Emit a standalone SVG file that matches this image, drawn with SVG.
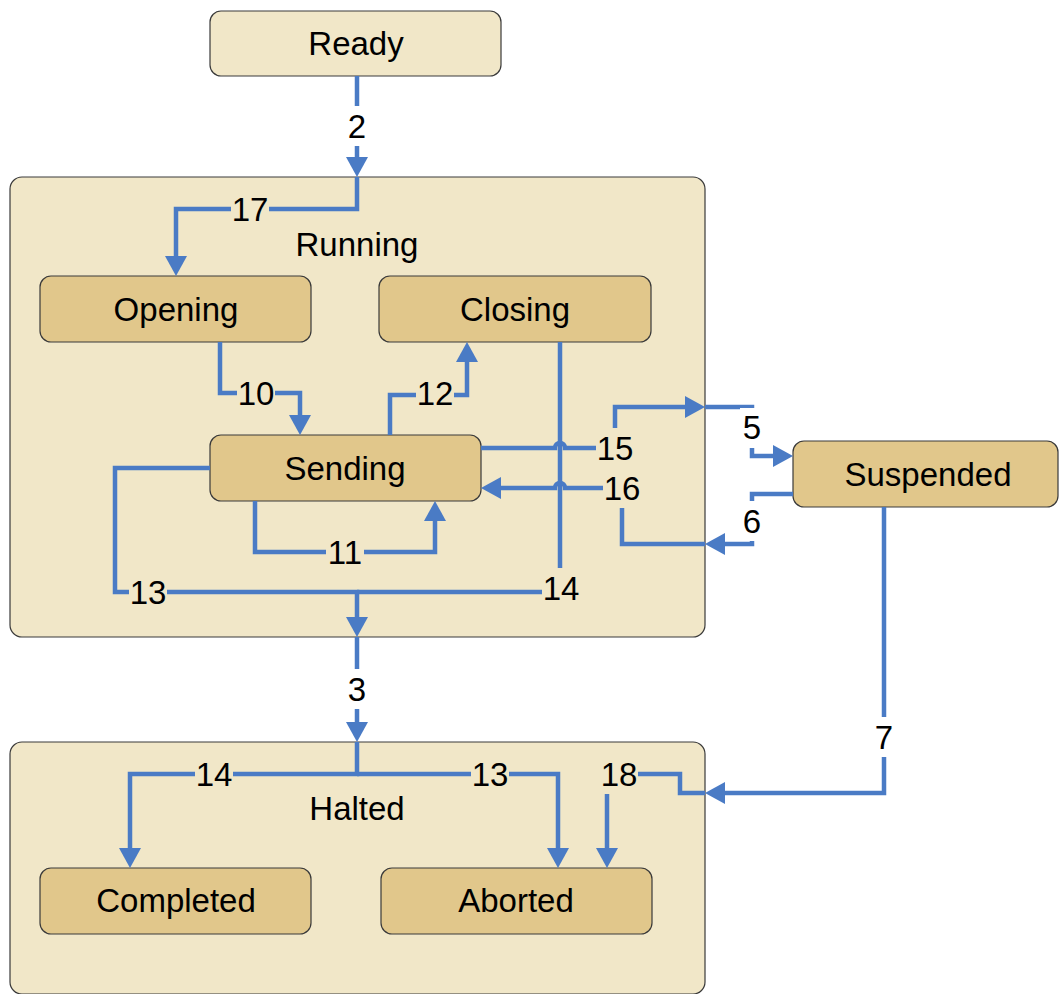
<svg xmlns="http://www.w3.org/2000/svg" width="1059" height="994" viewBox="0 0 1059 994">
<style>
.outer{fill:#F1E7C8;stroke:#3a3a3a;stroke-width:1.2}
.inner{fill:#E1C78B;stroke:#3a3a3a;stroke-width:1.2}
.t{font-family:"Liberation Sans",Arial,sans-serif;font-size:33px;fill:#000;text-anchor:middle}
.e{fill:none;stroke:#4A7BC5;stroke-width:4.5;stroke-linejoin:miter}
.ea{marker-end:url(#arr)}
.bgr{fill:#F1E7C8}
.bgw{fill:#FFFFFF}
</style>
<defs>
<marker id="arr" markerUnits="userSpaceOnUse" markerWidth="20" markerHeight="22" viewBox="0 0 20 22" refX="10" refY="11" orient="auto">
<path d="M0,0 L20,11 L0,22 z" fill="#4A7BC5"/>
</marker>
</defs>
<rect width="1059" height="994" fill="#FFFFFF"/>
<g id="Ready"><rect class="outer" x="210" y="11" width="291" height="65" rx="11"/><text class="t" x="356" y="55">Ready</text></g>
<g id="Running"><rect class="outer" x="10" y="177" width="695" height="460" rx="12"/><text class="t" x="357" y="256">Running</text></g>
<g id="Halted"><rect class="outer" x="10" y="742" width="695" height="252" rx="12"/><text class="t" x="357" y="820">Halted</text></g>
<g id="Opening"><rect class="inner" x="40" y="276" width="271" height="66" rx="11"/><text class="t" x="176" y="321">Opening</text></g>
<g id="Closing"><rect class="inner" x="379" y="276" width="272" height="66" rx="11"/><text class="t" x="515" y="321">Closing</text></g>
<g id="Sending"><rect class="inner" x="210" y="435" width="271" height="66" rx="11"/><text class="t" x="345" y="480">Sending</text></g>
<g id="Suspended"><rect class="inner" x="793" y="441" width="265" height="66" rx="11"/><text class="t" x="928" y="486">Suspended</text></g>
<g id="Completed"><rect class="inner" x="40" y="868" width="271" height="66" rx="11"/><text class="t" x="176" y="912">Completed</text></g>
<g id="Aborted"><rect class="inner" x="381" y="868" width="271" height="66" rx="11"/><text class="t" x="516" y="912">Aborted</text></g>
<g id="connectors">
<path class="e ea" d="M357,76 V167"/>
<path class="e ea" d="M357,177 V209 H176 V266"/>
<path class="e ea" d="M220,342 V393 H300 V425"/>
<path class="e ea" d="M390,435 V395 H467 V352"/>
<path class="e ea" d="M255,501 V552 H435 V511"/>
<path class="e ea" d="M210,468 H115 V592 H357 V627"/>
<path class="e" d="M560,342 V592 H357"/>
<path class="e ea" d="M357,637 V732"/>
<path class="e ea" d="M357,742 V774 H130 V858"/>
<path class="e ea" d="M357,774 H558 V858"/>
<path class="e ea" d="M481,448 H555 A5,5 0 0 1 565,448 H615 V407 H695"/>
<path class="e ea" d="M705,407 H752 V456 H783"/>
<path class="e ea" d="M793,494 H752 V544 H715"/>
<path class="e ea" d="M705,544 H622 V488 H565 A5,5 0 0 0 555,488 H491"/>
<path class="e ea" d="M884,507 V793 H715"/>
<path class="e ea" d="M705,793 H680 V774 H607 V858"/>
</g>
<g id="labels">
<rect class="bgw" x="345" y="106" width="24" height="40"/><text class="t" x="357" y="138">2</text>
<rect class="bgr" x="231" y="189" width="38" height="40"/><text class="t" x="250" y="221">17</text>
<rect class="bgr" x="237" y="373" width="38" height="40"/><text class="t" x="256" y="405">10</text>
<rect class="bgr" x="416" y="373" width="38" height="40"/><text class="t" x="435" y="405">12</text>
<rect class="bgr" x="326" y="532" width="38" height="40"/><text class="t" x="345" y="564">11</text>
<rect class="bgr" x="129" y="572" width="38" height="40"/><text class="t" x="148" y="604">13</text>
<rect class="bgr" x="542" y="568" width="38" height="40"/><text class="t" x="561" y="600">14</text>
<rect class="bgr" x="596" y="428" width="38" height="40"/><text class="t" x="615" y="460">15</text>
<rect class="bgr" x="603" y="468" width="38" height="40"/><text class="t" x="622" y="500">16</text>
<rect class="bgw" x="740" y="408" width="24" height="40"/><text class="t" x="752" y="439">5</text>
<rect class="bgw" x="740" y="501" width="24" height="40"/><text class="t" x="752" y="533">6</text>
<rect class="bgw" x="345" y="669" width="24" height="40"/><text class="t" x="357" y="701">3</text>
<rect class="bgw" x="872" y="717" width="24" height="40"/><text class="t" x="884" y="749">7</text>
<rect class="bgr" x="195" y="754" width="38" height="40"/><text class="t" x="214" y="786">14</text>
<rect class="bgr" x="471" y="754" width="38" height="40"/><text class="t" x="490" y="786">13</text>
<rect class="bgr" x="600" y="754" width="38" height="40"/><text class="t" x="619" y="786">18</text>
</g>
</svg>
